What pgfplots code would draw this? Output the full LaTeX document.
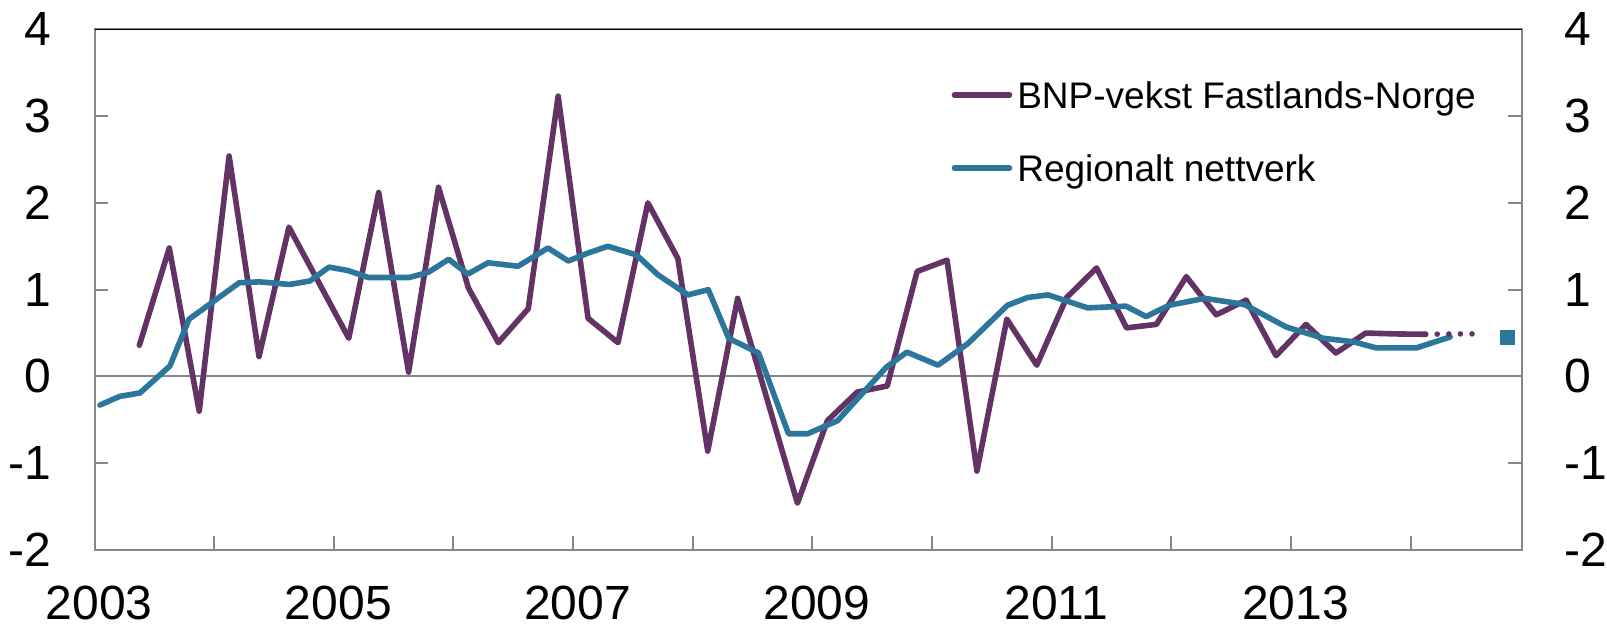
\documentclass[border=0pt]{standalone}
\usepackage{fontspec}
\setmainfont{Liberation Sans}
\usepackage{pgfplots}
\pgfplotsset{compat=1.18}
\definecolor{bnp}{RGB}{99,51,101}
\definecolor{reg}{RGB}{44,118,155}
\definecolor{axgray}{RGB}{134,134,134}
\begin{document}
\begin{tikzpicture}
\pgfplotsset{
  common/.style={
    at={(23.625pt,18.75pt)}, anchor=south west,
    scale only axis, width=356.8pt, height=130.175pt,
    xmin=2003, xmax=2014.928, ymin=-2, ymax=4,
    /pgf/number format/assume math mode=true,
    ytick={-2,...,4}, yticklabels={-2,-1,0,1,2,3,4},
    tick align=inside,
    major tick length=3.5pt,
    tick label style={font=\fontsize{12}{14}\selectfont, inner sep=0pt},
  }
}
\begin{axis}[common,
  xtick={2003,...,2014}, xticklabels={2003,,2005,,2007,,2009,,2011,,2013,},
  xtick pos=left, ytick pos=both,
  yticklabel pos=left,
  tick style={draw=axgray, line width=0.5pt},
  axis line style={draw=axgray, line width=0.5pt},
  yticklabel style={anchor=east, xshift=-10.6pt},
  xticklabel style={anchor=north, yshift=-8.9pt, xshift=1.15pt},
  extra y ticks={0}, extra y tick labels={},
  extra y tick style={grid=major, major grid style={draw=axgray, line width=0.5pt}},
  legend style={draw=none, fill=none, at={(axis description cs:0.6006,0.8994)}, anchor=north west,
    inner sep=0pt, outer sep=0pt, font=\fontsize{9.25}{11}\selectfont,
    row sep=11.7pt, column sep=1.25pt,
    nodes={inner sep=0pt, outer sep=0pt, text height=6.6pt, text depth=0pt}},
  legend cell align=left,
  legend image code/.code={\draw[#1, line cap=round] (0pt,0pt) -- (13.75pt,0pt);},
]
\addplot[bnp, line width=1.4pt, line join=round, line cap=round] coordinates {
(2003.375,0.36) (2003.625,1.48) (2003.875,-0.40) (2004.125,2.54)
(2004.375,0.23) (2004.625,1.72) (2004.875,1.08) (2005.125,0.44)
(2005.375,2.12) (2005.625,0.05) (2005.875,2.18) (2006.125,1.02)
(2006.375,0.39) (2006.625,0.78) (2006.875,3.23) (2007.125,0.67)
(2007.375,0.39) (2007.625,2.00) (2007.875,1.36) (2008.125,-0.86)
(2008.375,0.90) (2008.625,-0.28) (2008.875,-1.46) (2009.125,-0.51)
(2009.375,-0.18) (2009.625,-0.11) (2009.875,1.21) (2010.125,1.34)
(2010.375,-1.09) (2010.625,0.66) (2010.875,0.13) (2011.125,0.91)
(2011.375,1.25) (2011.625,0.56) (2011.875,0.60) (2012.125,1.15)
(2012.375,0.71) (2012.625,0.88) (2012.875,0.24) (2013.125,0.60)
(2013.375,0.27) (2013.625,0.50) (2013.875,0.49) (2014.125,0.486)
};
\addlegendentry{BNP-vekst Fastlands-Norge}
\addplot[reg, line width=1.4pt, line join=round, line cap=round] coordinates {
(2003.045,-0.33) (2003.21,-0.23) (2003.38,-0.19) (2003.63,0.12)
(2003.79,0.66) (2003.95,0.82) (2004.21,1.08) (2004.38,1.09) (2004.63,1.06)
(2004.80,1.10) (2004.96,1.26) (2005.12,1.22) (2005.29,1.14)
(2005.63,1.14) (2005.79,1.20) (2005.96,1.35) (2006.12,1.18)
(2006.29,1.31) (2006.54,1.27) (2006.79,1.48) (2006.96,1.33)
(2007.12,1.42) (2007.29,1.50) (2007.53,1.40) (2007.71,1.17)
(2007.96,0.94) (2008.13,1.00) (2008.30,0.44) (2008.55,0.27)
(2008.80,-0.66) (2008.96,-0.66) (2009.21,-0.51) (2009.62,0.11)
(2009.79,0.28) (2010.05,0.13) (2010.30,0.38) (2010.63,0.82)
(2010.80,0.91) (2010.97,0.94) (2011.30,0.79) (2011.62,0.81)
(2011.79,0.69) (2011.98,0.82) (2012.28,0.90) (2012.61,0.83)
(2012.96,0.57) (2013.27,0.44) (2013.52,0.40) (2013.71,0.33)
(2014.05,0.33) (2014.33,0.455)
};
\addlegendentry{Regionalt nettverk}
\addplot[bnp, line width=1.4pt, line cap=round, dash pattern=on 0pt off 2.9pt, forget plot] coordinates {
(2014.125,0.486) (2014.375,0.49) (2014.6,0.49)
};
\addplot[reg, only marks, mark=square*, mark size=1.75pt, mark options={solid, fill=reg, draw=reg, line width=0pt}, forget plot] coordinates {
(2014.81,0.447)
};
\draw[black, line width=0.45pt] (rel axis cs:0,1) -- (rel axis cs:1,1);
\end{axis}
\begin{axis}[common,
  xtick=\empty, ytick pos=right, yticklabel pos=right,
  axis line style={draw=none}, tick style={draw=none},
  yticklabel style={anchor=west, xshift=10.5pt},
]
\end{axis}
\pgfresetboundingbox
\useasboundingbox (0,0) rectangle (401.75pt,156.25pt);
\end{tikzpicture}
\end{document}
